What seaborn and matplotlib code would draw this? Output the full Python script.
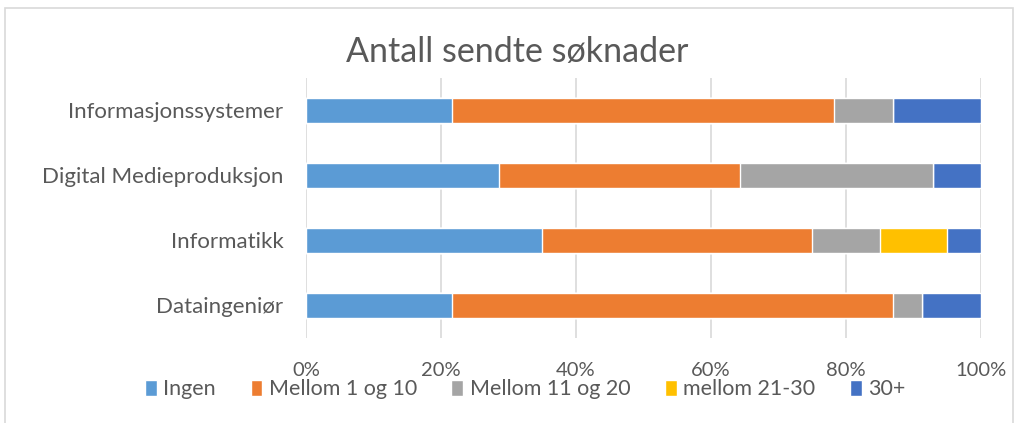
import numpy as np
import pandas as pd
import matplotlib.pyplot as plt
import seaborn as sns
from matplotlib.patches import Patch, Rectangle
from matplotlib.ticker import PercentFormatter

# andel studenter per antall sendte søknader (%)
studier = ['Informasjonssystemer', 'Digital Medieproduksjon', 'Informatikk', 'Dataingeniør']
ingen = [21.7, 28.6, 35.0, 21.7]
mellom_1_10 = [56.5, 35.7, 40.0, 65.2]
mellom_11_20 = [8.7, 28.6, 10.0, 4.3]
mellom_21_30 = [0.0, 0.0, 10.0, 0.0]
over_30 = [13.0, 7.1, 5.0, 8.7]

serier = ['Ingen', 'Mellom 1 og 10', 'Mellom 11 og 20', 'mellom 21-30', '30+']
farger = ['#5B9BD5', '#ED7D31', '#A5A5A5', '#FFC000', '#4472C4']

df = pd.DataFrame({'studie': studier, 'Ingen': ingen, 'Mellom 1 og 10': mellom_1_10,
                   'Mellom 11 og 20': mellom_11_20, 'mellom 21-30': mellom_21_30,
                   '30+': over_30})
# 100% stablet -> normaliser og kumuler
vals = df[serier].div(df[serier].sum(axis=1), axis=0) * 100
cum = vals.cumsum(axis=1)

sns.set_style('white')
plt.rcParams['font.family'] = ['Lato', 'DejaVu Sans']

fig = plt.figure(figsize=(10.16, 4.23), dpi=100)
ax = fig.add_axes([0.301, 0.201, 0.6645, 0.615])

# tegn fra lengste kumulative til korteste slik at de overlapper riktig
for s, c in reversed(list(zip(serier, farger))):
    sns.barplot(x=cum[s].values, y=df['studie'], orient='h', color=c,
                width=0.39, saturation=1, ax=ax)

ax.set_xlim(0, 100)
ax.xaxis.set_major_formatter(PercentFormatter(decimals=0))
ax.set_xticks(np.arange(0, 101, 20))
ax.grid(axis='x', color='#D9D9D9', linewidth=1.2)
ax.set_axisbelow(True)
for sp in ax.spines.values():
    sp.set_visible(False)
ax.set_xlabel('')
ax.set_ylabel('')
ax.tick_params(axis='x', length=0, pad=17, labelsize=14.5, labelcolor='#595959')
ax.tick_params(axis='y', length=0, pad=16, labelsize=16, labelcolor='#595959')

fig.text(0.509, 0.877, 'Antall sendte søknader', ha='center', va='center',
         fontsize=24.5, color='#595959')

handles = [Patch(facecolor=c, label=s) for s, c in zip(serier, farger)]
fig.legend(handles=handles, loc='center', bbox_to_anchor=(0.517, 0.08), ncol=5,
           frameon=False, fontsize=15.5, labelcolor='#595959', handlelength=0.55,
           handleheight=0.75, handletextpad=0.3, columnspacing=1.6)

fig.patches.append(Rectangle((0.005, -0.01), 0.992, 0.99, transform=fig.transFigure,
                             fill=False, edgecolor='#D9D9D9', linewidth=1.2))

fig.savefig('out.png', dpi=100)
